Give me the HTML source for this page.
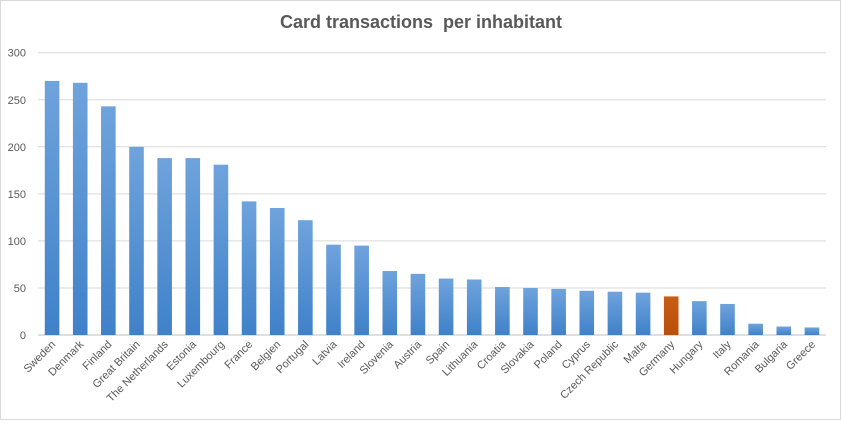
<!DOCTYPE html>
<html><head><meta charset="utf-8">
<style>
html,body{margin:0;padding:0;background:#fff;}
body{width:841px;height:420px;overflow:hidden;font-family:"Liberation Sans",sans-serif;}
</style></head>
<body>
<svg id="chart" width="841" height="420" xmlns="http://www.w3.org/2000/svg">
<defs>
<linearGradient id="blue" x1="0" y1="0" x2="0" y2="1">
<stop offset="0" stop-color="#6fa3dc"/><stop offset="1" stop-color="#3f81c9"/>
</linearGradient>
<linearGradient id="orange" x1="0" y1="0" x2="0" y2="1">
<stop offset="0" stop-color="#c85e14"/><stop offset="1" stop-color="#b8500c"/>
</linearGradient>
</defs>
<rect x="0.5" y="0.5" width="840" height="419" fill="#fff" stroke="#d9d9d9"/>
<text x="421" y="28" text-anchor="middle" font-size="18" font-weight="bold" fill="#595959">Card transactions&#160; per inhabitant</text>
<g id="grid"></g><g id="bars"></g><g id="labels"></g>
</svg>
<script>
const categories=["Sweden","Denmark","Finland","Great Britain","The Netherlands","Estonia","Luxembourg","France","Belgien","Portugal","Latvia","Ireland","Slovenia","Austria","Spain","Lithuania","Croatia","Slovakia","Poland","Cyprus","Czech Republic","Malta","Germany","Hungary","Italy","Romania","Bulgaria","Greece"];
const values=[270,268,243,200,188,188,181,142,135,122,96,95,68,65,60,59,51,50,49,47,46,45,41,36,33,12,9,8];
const highlight=["Germany"];
const yTicks=[0,50,100,150,200,250,300];
const NS="http://www.w3.org/2000/svg";
const x0=38,x1=826,yTop=52.7,yBot=335,yMax=300;
const step=(x1-x0)/categories.length;
function y(v){return yBot-(v/yMax)*(yBot-yTop);}
function xc(i){return x0+step*(i+0.5);}
const grid=document.getElementById('grid'),bars=document.getElementById('bars'),labels=document.getElementById('labels');
yTicks.forEach(t=>{
  const l=document.createElementNS(NS,'line');
  l.setAttribute('x1',x0);l.setAttribute('x2',x1);l.setAttribute('y1',y(t));l.setAttribute('y2',y(t));
  l.setAttribute('stroke',t===0?'#bfbfbf':'#d9d9d9');l.setAttribute('stroke-width','1');
  
  
  grid.appendChild(l);
  const tx=document.createElementNS(NS,'text');
  tx.setAttribute('x',26);tx.setAttribute('y',y(t)+4);tx.setAttribute('text-anchor','end');
  tx.setAttribute('font-size','11');tx.setAttribute('fill','#595959');tx.textContent=t;
  
  
  grid.appendChild(tx);
});
const bw=14.6;
categories.forEach((c,i)=>{
  const r=document.createElementNS(NS,'rect');
  r.setAttribute('x',xc(i)-bw/2);r.setAttribute('width',bw);
  r.setAttribute('y',y(values[i]));r.setAttribute('height',yBot-y(values[i]));
  r.setAttribute('fill',highlight.includes(c)?'url(#orange)':'url(#blue)');
  
  
  bars.appendChild(r);
  const t=document.createElementNS(NS,'text');
  const lx=xc(i)+4,ly=yBot+10;
  t.setAttribute('x',lx);t.setAttribute('y',ly);t.setAttribute('text-anchor','end');
  t.setAttribute('font-size','11');t.setAttribute('fill','#595959');
  t.setAttribute('transform','rotate(-45 '+lx+' '+ly+')');
  t.textContent=c;
  
  
  labels.appendChild(t);
});
</script>
</body></html>
